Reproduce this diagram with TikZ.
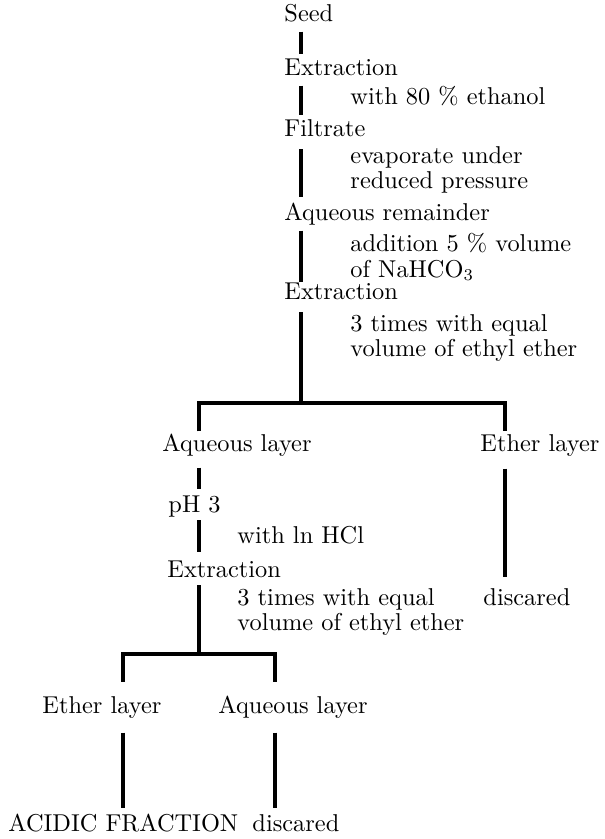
\documentclass[tikz,border=0pt]{standalone}
\usetikzlibrary{calc}

\begin{document}
\begin{tikzpicture}[x=0.4268pt, y=-0.4268pt,
    every node/.style={anchor=west, inner sep=0pt, font=\fontsize{10.4}{11}\selectfont},
    stage/.style={text height=7pt, text depth=2pt},
    note/.style={align=left},
    link/.style={line width=1.4pt, shorten <=2pt, shorten >=2pt},
    fork/.style={line width=1.4pt, shorten <=1.5pt, shorten >=1.5pt}]
    \useasboundingbox (0,0) rectangle (604,839);

    \coordinate (axisA) at (301,0);
    \coordinate (axisB) at (199,0);
    \coordinate (axisC) at (505,0);
    \coordinate (axisD) at (123,0);
    \coordinate (axisE) at (275,0);
    \coordinate (split1) at (301,403);
    \coordinate (split2) at (199,654);

    \node[stage] (seed) at (284,16) {Seed};
    \node[stage] (ext1) at (284,70) {Extraction};
    \node[note] (with80) at (350,96) {with 80 \% ethanol};
    \node[stage] (filt) at (284,131) {Filtrate};
    \node[note] (evap) at (350,170) {evaporate under\\reduced pressure};
    \node[stage] (aqrem) at (284,215) {Aqueous remainder};
    \node[note] (nahco) at (350,257) {addition 5 \% volume\\of NaHCO$_3$};
    \node[stage] (ext2) at (284,294) {Extraction};
    \node[note] (ether1) at (350,338) {3 times with equal\\volume of ethyl ether};

    \node[stage] (aqlay) at (162,446) {Aqueous layer};
    \node[stage] (ethlay) at (480,446) {Ether layer};
    \node[stage] (ph) at (168,507) {pH 3};
    \node[note] (hcl) at (237,535) {with ln HCl};
    \node[stage] (ext3) at (167,572) {Extraction};
    \node[note] (ether2) at (237,612) {3 times with equal\\volume of ethyl ether};
    \node[stage] (disc1) at (483,600) {discared};

    \node[stage] (ethlay2) at (42,708) {Ether layer};
    \node[stage] (aqlay2) at (218,708) {Aqueous layer};
    \node[stage] (acid) at (8,826) {ACIDIC FRACTION};
    \node[stage] (disc2) at (252,826) {discared};

    \draw[link] (axisA |- seed.south) -- (axisA |- ext1.north);
    \draw[link] (axisA |- ext1.south) -- (axisA |- filt.north);
    \draw[link, shorten <=3pt, shorten >=3pt] (axisA |- filt.south) -- (axisA |- aqrem.north);
    \draw[link, shorten >=0.6pt] (axisA |- aqrem.south) -- (axisA |- ext2.north);
    \draw[link, shorten <=3pt, shorten >=0pt] (axisA |- ext2.south) -- (split1);
    \draw[fork] (axisB |- aqlay.north) |- (split1) -| (axisC |- ethlay.north);

    \draw[link, shorten <=4.5pt, shorten >=2.8pt] (axisB |- aqlay.south) -- (axisB |- ph.north);
    \draw[link, shorten <=1pt, shorten >=4pt] (axisB |- ph.south) -- (axisB |- ext3.north);
    \draw[link, shorten <=1pt, shorten >=0pt] (axisB |- ext3.south) -- (split2);
    \draw[link, shorten <=5pt, shorten >=5.3pt] (axisC |- ethlay.south) -- (axisC |- disc1.north);
    \draw[fork, shorten <=6.6pt, shorten >=6.6pt] (axisD |- ethlay2.north) |- (split2) -| (axisE |- aqlay2.north);

    \draw[link, shorten <=5.8pt, shorten >=3.2pt] (axisD |- ethlay2.south) -- (axisD |- acid.north);
    \draw[link, shorten <=5.8pt, shorten >=3.2pt] (axisE |- aqlay2.south) -- (axisE |- disc2.north);
\end{tikzpicture}
\end{document}
